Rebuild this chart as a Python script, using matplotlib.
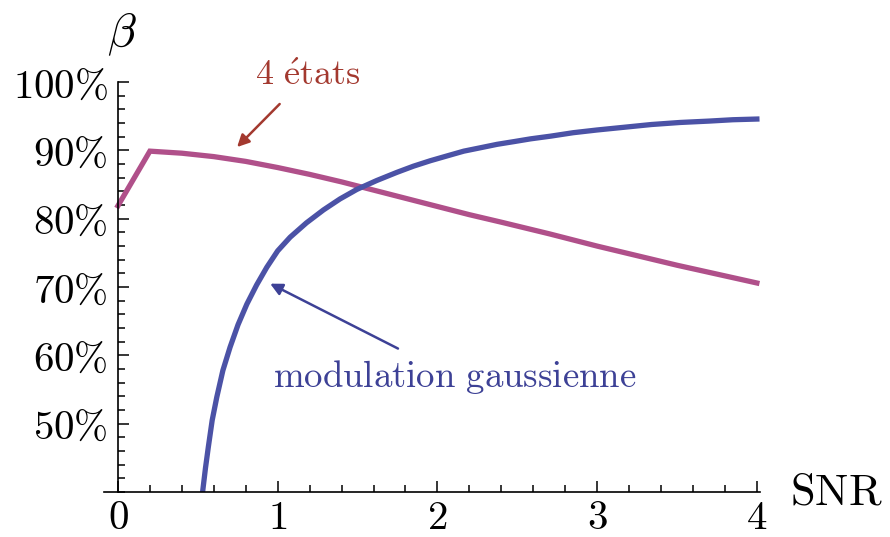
import numpy as np
import matplotlib.pyplot as plt
from matplotlib.ticker import MultipleLocator

plt.rcParams['mathtext.fontset'] = 'cm'

# values (SNR, beta in %)
snr_4etats = [0.0, 0.2, 0.4, 0.6, 0.8, 1.0, 1.2, 1.4, 1.6, 1.8, 2.0, 2.2, 2.4,
              2.7, 3.0, 3.5, 4.0]
beta_4etats = [81.9, 89.9, 89.6, 89.1, 88.4, 87.5, 86.5, 85.4, 84.2, 83.0, 81.8,
               80.6, 79.5, 77.8, 76.0, 73.2, 70.6]

snr_gauss = [0.530, 0.548, 0.566, 0.590, 0.619, 0.657, 0.702, 0.752, 0.807, 0.868,
             0.932, 1.0, 1.078, 1.18, 1.287, 1.39, 1.496, 1.62, 1.747, 1.85,
             1.956, 2.06, 2.165, 2.27, 2.374, 2.48, 2.583, 2.71, 2.85, 3.0,
             3.17, 3.34, 3.52, 3.7, 3.85, 4.0]
beta_gauss = [40.0, 43.5, 46.6, 50.5, 53.9, 57.8, 61.2, 64.5, 67.5, 70.3,
              72.9, 75.3, 77.3, 79.4, 81.3, 82.9, 84.3, 85.6, 86.8, 87.7,
              88.5, 89.2, 89.9, 90.4, 90.9, 91.3, 91.7, 92.1, 92.6, 93.0,
              93.4, 93.8, 94.1, 94.3, 94.5, 94.6]

y_ticks = [50, 60, 70, 80, 90, 100]
y_labels = [r'$%d\%%$' % v for v in y_ticks]
x_ticks = [0, 1, 2, 3, 4]

pink = '#b0508a'
blue = '#4b52a6'
red = '#a3392f'
dblue = '#3d4196'

fig = plt.figure(figsize=(8.9, 5.37), dpi=100)
ax = fig.add_axes([0.1169, 0.0838, 0.7371, 0.7632])

ax.plot(snr_4etats, beta_4etats, color=pink, lw=3.8, solid_joinstyle='miter')
ax.plot(snr_gauss, beta_gauss, color=blue, lw=3.8, solid_joinstyle='round')

ax.set_xlim(-0.087, 4.02)
ax.set_ylim(40, 100)

for s in ['top', 'right']:
    ax.spines[s].set_visible(False)
ax.spines['left'].set_position(('data', 0))
ax.spines['left'].set_linewidth(1.2)
ax.spines['bottom'].set_linewidth(1.2)

ax.set_yticks(y_ticks)
ax.set_yticklabels(y_labels)
ax.set_xticks(x_ticks)
ax.set_xticklabels([r'$%d$' % v for v in x_ticks])
ax.yaxis.set_minor_locator(MultipleLocator(2))
ax.xaxis.set_minor_locator(MultipleLocator(0.2))
ax.tick_params(which='major', direction='in', length=8, width=1.1, labelsize=29.5)
ax.tick_params(which='minor', direction='in', length=5, width=1.1)
ax.tick_params(axis='y', pad=7)
ax.tick_params(axis='x', pad=4)

fig.text(0.137, 0.937, r'$\beta$', fontsize=34, ha='center', va='center')
fig.text(0.940, 0.083, r'$\mathrm{SNR}$', fontsize=32, ha='center', va='center')

ax.annotate(r'$\mathrm{4\ \acute{e}tats}$', xy=(0.746, 90.5), xytext=(1.19, 101.0),
            fontsize=26, color=red, ha='center', va='center', annotation_clip=False,
            arrowprops=dict(arrowstyle='-|>', color=red, lw=1.8, shrinkA=9, shrinkB=0,
                            mutation_scale=18))
ax.annotate(r'$\mathrm{modulation\ gaussienne}$', xy=(0.953, 70.5), xytext=(2.107, 56.8),
            fontsize=26.5, color=dblue, ha='center', va='center',
            arrowprops=dict(arrowstyle='-|>', color=dblue, lw=1.8, shrinkA=11, shrinkB=0,
                            mutation_scale=18))

fig.savefig('out.png', dpi=100)
